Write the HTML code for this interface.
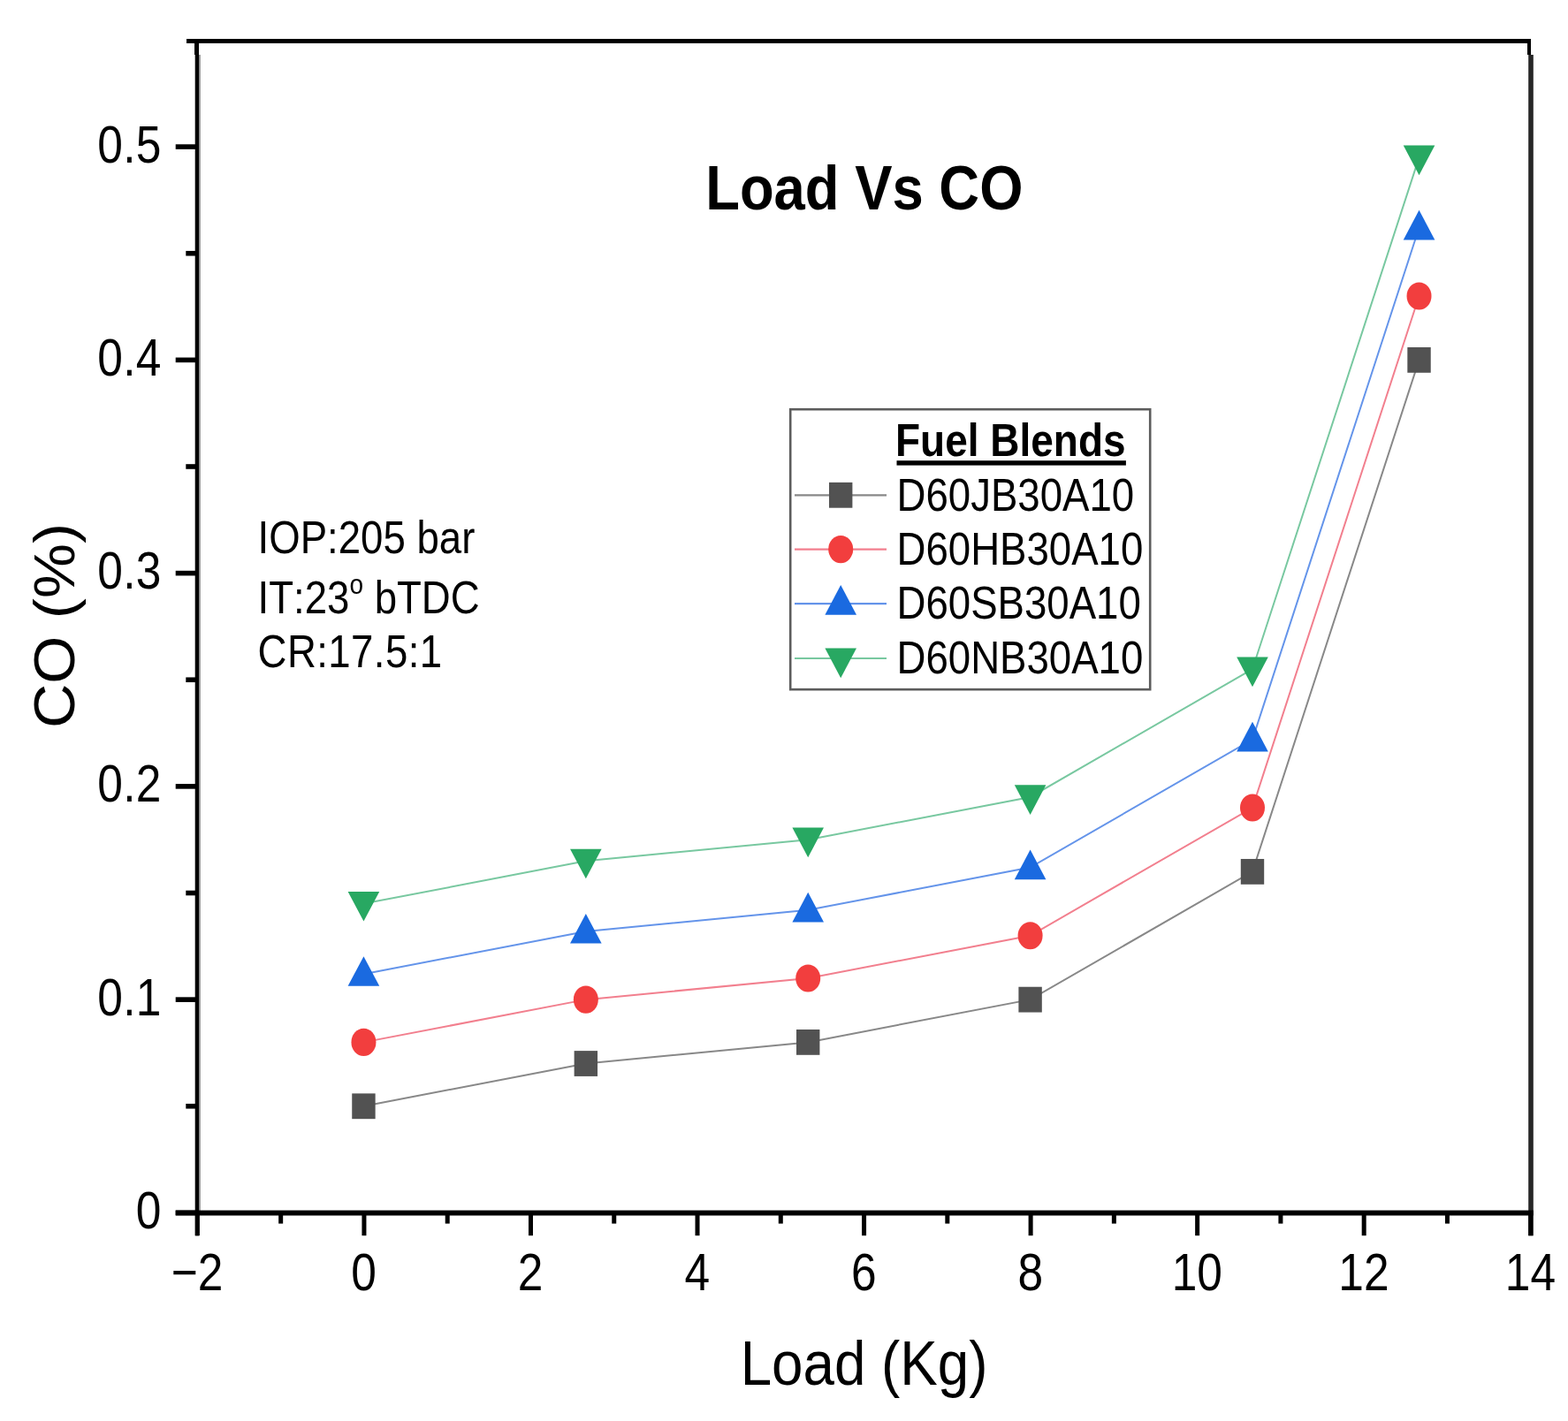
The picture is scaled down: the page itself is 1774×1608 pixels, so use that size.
<!DOCTYPE html>
<html><head><meta charset="utf-8"><title>Load Vs CO</title>
<style>
html,body{margin:0;padding:0;background:#fff;}
svg{display:block;}
text{font-family:"Liberation Sans", Arial, sans-serif;fill:#000;font-kerning:none;}
</style></head>
<body>
<svg width="1774" height="1608" viewBox="0 0 1774 1608">
<rect width="1774" height="1608" fill="#fff"/>
<rect x="220.7" y="62" width="4.3" height="1336.3" fill="#000"/>
<rect x="225" y="62" width="1.8" height="1310" fill="#000" fill-opacity="0.45"/>
<rect x="1729.2" y="62" width="5.6" height="1336.3" fill="#262626"/>
<rect x="198.7" y="1369.6" width="1536.1" height="5.9" fill="#000"/>
<rect x="211" y="44" width="1521" height="5" fill="#000"/>
<rect x="220" y="46" width="5" height="16" fill="#000"/>
<rect x="1728" y="46" width="4" height="16" fill="#000"/>
<rect x="198.7" y="1369.60" width="24" height="5.6" fill="#000"/>
<rect x="198.7" y="1128.34" width="24" height="5.6" fill="#000"/>
<rect x="198.7" y="887.08" width="24" height="5.6" fill="#000"/>
<rect x="198.7" y="645.82" width="24" height="5.6" fill="#000"/>
<rect x="198.7" y="404.56" width="24" height="5.6" fill="#000"/>
<rect x="198.7" y="163.30" width="24" height="5.6" fill="#000"/>
<rect x="210.3" y="1248.97" width="12" height="5.6" fill="#000"/>
<rect x="210.3" y="1007.71" width="12" height="5.6" fill="#000"/>
<rect x="210.3" y="766.45" width="12" height="5.6" fill="#000"/>
<rect x="210.3" y="525.19" width="12" height="5.6" fill="#000"/>
<rect x="210.3" y="283.93" width="12" height="5.6" fill="#000"/>
<rect x="220.90" y="1372" width="5" height="26.2" fill="#000"/>
<rect x="409.44" y="1372" width="5" height="26.2" fill="#000"/>
<rect x="597.98" y="1372" width="5" height="26.2" fill="#000"/>
<rect x="786.52" y="1372" width="5" height="26.2" fill="#000"/>
<rect x="975.06" y="1372" width="5" height="26.2" fill="#000"/>
<rect x="1163.60" y="1372" width="5" height="26.2" fill="#000"/>
<rect x="1352.14" y="1372" width="5" height="26.2" fill="#000"/>
<rect x="1540.68" y="1372" width="5" height="26.2" fill="#000"/>
<rect x="1729.22" y="1372" width="5" height="26.2" fill="#000"/>
<rect x="315.17" y="1372" width="5" height="12.6" fill="#000"/>
<rect x="503.71" y="1372" width="5" height="12.6" fill="#000"/>
<rect x="692.25" y="1372" width="5" height="12.6" fill="#000"/>
<rect x="880.79" y="1372" width="5" height="12.6" fill="#000"/>
<rect x="1069.33" y="1372" width="5" height="12.6" fill="#000"/>
<rect x="1257.87" y="1372" width="5" height="12.6" fill="#000"/>
<rect x="1446.41" y="1372" width="5" height="12.6" fill="#000"/>
<rect x="1634.95" y="1372" width="5" height="12.6" fill="#000"/>
<polyline points="411.44,1251.77 662.83,1203.52 914.21,1179.39 1165.60,1131.14 1416.99,986.38 1605.53,407.36" fill="none" stroke="#888888" stroke-width="2"/>
<polyline points="411.44,1179.39 662.83,1131.14 914.21,1107.01 1165.60,1058.76 1416.99,914.01 1605.53,334.98" fill="none" stroke="#f27f8e" stroke-width="2"/>
<polyline points="411.44,1102.19 662.83,1053.94 914.21,1029.81 1165.60,981.56 1416.99,836.80 1605.53,257.78" fill="none" stroke="#6494ea" stroke-width="2"/>
<polyline points="411.44,1022.57 662.83,974.32 914.21,950.20 1165.60,901.94 1416.99,757.19 1605.53,178.16" fill="none" stroke="#78c8a0" stroke-width="2"/>
<rect x="398.24" y="1237.37" width="26.4" height="28.8" fill="#525252"/>
<rect x="649.63" y="1189.12" width="26.4" height="28.8" fill="#525252"/>
<rect x="901.01" y="1164.99" width="26.4" height="28.8" fill="#525252"/>
<rect x="1152.40" y="1116.74" width="26.4" height="28.8" fill="#525252"/>
<rect x="1403.79" y="971.98" width="26.4" height="28.8" fill="#525252"/>
<rect x="1592.33" y="392.96" width="26.4" height="28.8" fill="#525252"/>
<ellipse cx="411.44" cy="1179.39" rx="14.0" ry="15.6" fill="#f23e3e"/>
<ellipse cx="662.83" cy="1131.14" rx="14.0" ry="15.6" fill="#f23e3e"/>
<ellipse cx="914.21" cy="1107.01" rx="14.0" ry="15.6" fill="#f23e3e"/>
<ellipse cx="1165.60" cy="1058.76" rx="14.0" ry="15.6" fill="#f23e3e"/>
<ellipse cx="1416.99" cy="914.01" rx="14.0" ry="15.6" fill="#f23e3e"/>
<ellipse cx="1605.53" cy="334.98" rx="14.0" ry="15.6" fill="#f23e3e"/>
<polygon points="411.44,1082.19 429.24,1115.79 393.64,1115.79" fill="#1a6ae0"/>
<polygon points="662.83,1033.94 680.63,1067.54 645.03,1067.54" fill="#1a6ae0"/>
<polygon points="914.21,1009.81 932.01,1043.41 896.41,1043.41" fill="#1a6ae0"/>
<polygon points="1165.60,961.56 1183.40,995.16 1147.80,995.16" fill="#1a6ae0"/>
<polygon points="1416.99,816.80 1434.79,850.40 1399.19,850.40" fill="#1a6ae0"/>
<polygon points="1605.53,237.78 1623.33,271.38 1587.73,271.38" fill="#1a6ae0"/>
<polygon points="393.64,1008.97 429.24,1008.97 411.44,1042.57" fill="#28a862"/>
<polygon points="645.03,960.72 680.63,960.72 662.83,994.32" fill="#28a862"/>
<polygon points="896.41,936.60 932.01,936.60 914.21,970.20" fill="#28a862"/>
<polygon points="1147.80,888.34 1183.40,888.34 1165.60,921.94" fill="#28a862"/>
<polygon points="1399.19,743.59 1434.79,743.59 1416.99,777.19" fill="#28a862"/>
<polygon points="1587.73,164.56 1623.33,164.56 1605.53,198.16" fill="#28a862"/>
<rect x="894.2" y="463.2" width="407.0" height="317.0" fill="#fff" stroke="#5c5c5c" stroke-width="2.6"/>
<line x1="899" y1="560.3" x2="1003" y2="560.3" stroke="#888888" stroke-width="2.2"/>
<rect x="938.00" y="545.90" width="26.4" height="28.8" fill="#525252"/>
<line x1="899" y1="621.6" x2="1003" y2="621.6" stroke="#f27f8e" stroke-width="2.2"/>
<ellipse cx="951.20" cy="621.60" rx="14.0" ry="15.6" fill="#f23e3e"/>
<line x1="899" y1="683.2" x2="1003" y2="683.2" stroke="#6494ea" stroke-width="2.2"/>
<polygon points="951.20,662.10 969.00,695.70 933.40,695.70" fill="#1a6ae0"/>
<line x1="899" y1="745.0" x2="1003" y2="745.0" stroke="#78c8a0" stroke-width="2.2"/>
<polygon points="933.40,733.60 969.00,733.60 951.20,767.20" fill="#28a862"/>
<rect x="1014.5" y="521.2" width="259.4" height="5.4" fill="#000"/>
<text transform="translate(1013.00 515.90) scale(1.0 1.11)" font-size="46" text-anchor="start" font-weight="bold">Fuel Blends</text>
<text transform="translate(1014.50 577.50) scale(1.0 1.13)" font-size="45.6" text-anchor="start" font-weight="normal">D60JB30A10</text>
<text transform="translate(1014.50 638.90) scale(1.0 1.13)" font-size="45.6" text-anchor="start" font-weight="normal">D60HB30A10</text>
<text transform="translate(1014.50 700.30) scale(1.0 1.13)" font-size="45.6" text-anchor="start" font-weight="normal">D60SB30A10</text>
<text transform="translate(1014.50 761.70) scale(1.0 1.13)" font-size="45.6" text-anchor="start" font-weight="normal">D60NB30A10</text>
<text transform="translate(977.80 236.50) scale(1.0 1.11)" font-size="63.4" text-anchor="middle" font-weight="bold">Load Vs CO</text>
<text transform="translate(291.50 625.80) scale(1.0 1.12)" font-size="45.6" text-anchor="start" font-weight="normal">IOP:205 bar</text>
<text transform="translate(291.50 694.40) scale(1.0 1.12)" font-size="45.6" text-anchor="start" font-weight="normal">IT:23<tspan font-size="28" dy="-20">o</tspan><tspan dy="20"> bTDC</tspan></text>
<text transform="translate(291.60 754.60) scale(1.0 1.12)" font-size="45.6" text-anchor="start" font-weight="normal" letter-spacing="0.4">CR:17.5:1</text>
<text transform="translate(153.80 1390.00) scale(1.0 1.15)" font-size="51.5" text-anchor="start" font-weight="normal">0</text>
<text transform="translate(110.20 1148.74) scale(1.0 1.15)" font-size="51.5" text-anchor="start" font-weight="normal" letter-spacing="0.3">0.1</text>
<text transform="translate(110.20 907.48) scale(1.0 1.15)" font-size="51.5" text-anchor="start" font-weight="normal" letter-spacing="0.3">0.2</text>
<text transform="translate(110.20 666.22) scale(1.0 1.15)" font-size="51.5" text-anchor="start" font-weight="normal" letter-spacing="0.3">0.3</text>
<text transform="translate(110.20 424.96) scale(1.0 1.15)" font-size="51.5" text-anchor="start" font-weight="normal" letter-spacing="0.3">0.4</text>
<text transform="translate(110.20 183.70) scale(1.0 1.15)" font-size="51.5" text-anchor="start" font-weight="normal" letter-spacing="0.3">0.5</text>
<text transform="translate(223.10 1460.00) scale(1.0 1.15)" font-size="51.5" text-anchor="middle" font-weight="normal">−2</text>
<text transform="translate(411.64 1460.00) scale(1.0 1.15)" font-size="51.5" text-anchor="middle" font-weight="normal">0</text>
<text transform="translate(600.18 1460.00) scale(1.0 1.15)" font-size="51.5" text-anchor="middle" font-weight="normal">2</text>
<text transform="translate(788.72 1460.00) scale(1.0 1.15)" font-size="51.5" text-anchor="middle" font-weight="normal">4</text>
<text transform="translate(977.26 1460.00) scale(1.0 1.15)" font-size="51.5" text-anchor="middle" font-weight="normal">6</text>
<text transform="translate(1165.80 1460.00) scale(1.0 1.15)" font-size="51.5" text-anchor="middle" font-weight="normal">8</text>
<text transform="translate(1354.34 1460.00) scale(1.0 1.15)" font-size="51.5" text-anchor="middle" font-weight="normal">10</text>
<text transform="translate(1542.88 1460.00) scale(1.0 1.15)" font-size="51.5" text-anchor="middle" font-weight="normal">12</text>
<text transform="translate(1731.42 1460.00) scale(1.0 1.15)" font-size="51.5" text-anchor="middle" font-weight="normal">14</text>
<text transform="translate(977.50 1566.70) scale(1.0 1.115)" font-size="63.7" text-anchor="middle" font-weight="normal">Load (Kg)</text>
<text transform="translate(84.0 707.9) rotate(-90) scale(1.063 1)" font-size="65.5" text-anchor="middle">CO (%)</text>
</svg>
</body></html>
